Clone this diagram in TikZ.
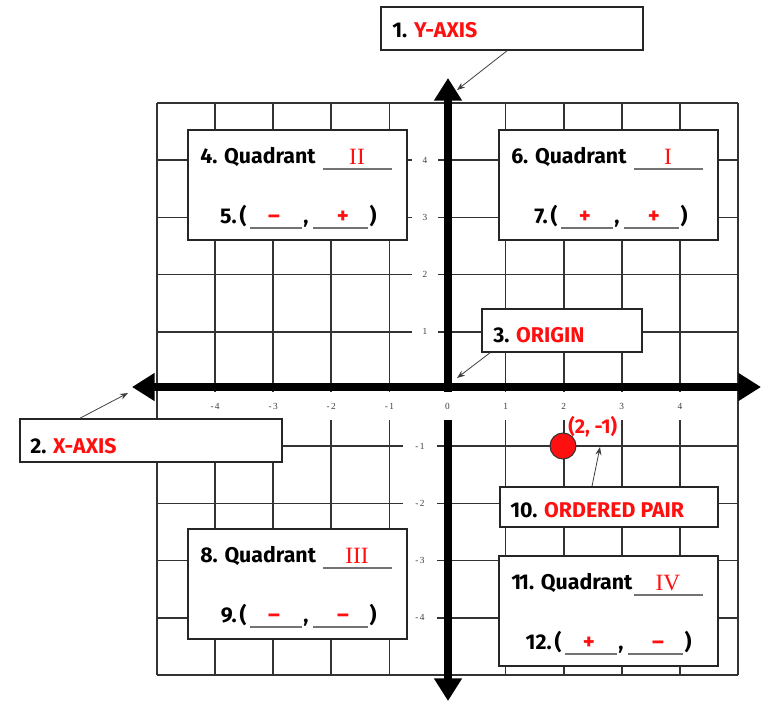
\documentclass[tikz,border=0pt]{standalone}
\usepackage{fontspec}
\setmainfont{Fira Sans}
\newfontfamily\tickfont{Liberation Serif}
\newfontfamily\numfont{Liberation Serif}
\usetikzlibrary{arrows.meta,fit}
\definecolor{gridc}{HTML}{333333}
\definecolor{ansred}{HTML}{FF1010}
\tikzset{
  gridline/.style={draw=gridc, line width=1.3pt},
  axisline/.style={line width=6pt, {Triangle[width=20pt,length=17pt]}-{Triangle[width=20pt,length=17pt]}},
  ticklab/.style={fill=white, inner sep=0pt, font=\tickfont\fontsize{7}{8}\selectfont, text=black!75},
  xtick/.style={ticklab, minimum width=14pt, minimum height=21pt},
  ytick/.style={ticklab, minimum width=19pt, minimum height=9pt},
  box/.style={draw=black!85, line width=1.2pt, fill=white, inner sep=0pt},
  lab/.style={inner sep=0pt, font=\bfseries\fontsize{16}{18}\selectfont},
  numer/.style={inner sep=0pt, text=ansred, font=\numfont\fontsize{17.5}{19}\selectfont},
  sign/.style={inner sep=0pt, text=ansred, font=\bfseries\fontsize{17}{19}\selectfont},
  blank/.style={draw=black!55, line width=1pt},
  callout/.style={draw=black!75, line width=0.6pt, -{Stealth[length=6pt,width=4.5pt]}},
  dot/.style={circle, draw=black!80, line width=0.8pt, fill=ansred, minimum size=19.5pt, inner sep=0pt}
}
\newcommand\qbox[9]{%
  \begin{scope}[shift={(#2,#3)}]
    \node[box, fit={(0,0) (219,110)}] (#1) {};
    \node[lab, anchor=base west] (#1-a) at (12,33) {#4 Quadrant};
    \draw[blank] (135,39) -- (204,39);
    \node[numer, anchor=base] (#1-n) at (169,34) {#5};
    \node[lab, anchor=base east] (#1-b) at (49+#9,93) {#6};
    \node[lab, anchor=base] (#1-o) at (55+#9,93) {(};
    \draw[blank] (62+#9,98) -- (114+#9,98);
    \node[sign, anchor=base] (#1-s) at (86+#9,93) {#7};
    \node[lab, anchor=base] (#1-c) at (118+#9,93) {,};
    \draw[blank] (125+#9,98) -- (180+#9,98);
    \node[sign, anchor=base] (#1-t) at (155+#9,93) {#8};
    \node[lab, anchor=base] (#1-e) at (185+#9,93) {)};
  \end{scope}}
\begin{document}
\begin{tikzpicture}[x=0.75pt, y=-0.75pt]
\useasboundingbox (0,0) rectangle (761,701);
% grid
\foreach \i in {0,...,10} {
  \draw[gridline] ({157+58.1*\i},103) -- ({157+58.1*\i},675);
  \draw[gridline] (157,{103+57.2*\i}) -- (738,{103+57.2*\i});
}
% axes
\draw[axisline] (448,78) -- (448,701);
\draw[axisline] (132,387) -- (761,387);
% tick labels
\foreach \v [count=\k] in {-4,-3,-2,-1,0,1,2,3,4} {
  \node[xtick] (xt\k) at ({157+58.1*\k},406) {\ifnum\v<0 -\hspace{1pt}\the\numexpr-\v\relax\else\v\fi};
}
\foreach \v/\yy in {4/160.2,3/217.4,2/274.6,1/331.8} {
  \node[ytick] (yt\v) at (425,\yy) {\v};
}
\foreach \v/\yy in {1/446.2,2/503.4,3/560.6,4/617.8} {
  \node[ytick, minimum width=25pt] (ytm\v) at (420,\yy) {-\hspace{1pt}\v};
}
% label boxes
\node[box, fit={(381,7) (643,50)}] (yb) {};
\node[lab, anchor=base west] (ybt) at (392,37) {1. \textcolor{ansred}{Y-AXIS}};
\node[box, fit={(20,419) (282,462)}] (xb) {};
\node[lab, anchor=base west] (xbt) at (30,453) {2. \textcolor{ansred}{X-AXIS}};
\node[box, fit={(482,309) (642,352)}] (ob) {};
\node[lab, anchor=base west] (obt) at (493,342) {3. \textcolor{ansred}{ORIGIN}};
\node[box, fit={(500,487) (718,527)}] (pb) {};
\node[lab, anchor=base west] (pbt) at (510,517) {10. \textcolor{ansred}{ORDERED PAIR}};
% quadrant boxes
\qbox{q2}{188}{130}{4.}{II}{5.}{–}{+}{0}
\qbox{q1}{499}{130}{6.}{I}{7.}{+}{+}{0}
\qbox{q3}{188}{529}{8.}{III}{9.}{–}{–}{0}
\qbox{q4}{499}{556}{1\kern-1.5pt1.}{IV}{12.}{+}{–}{4}
% point
\node[dot] (pt) at (563,446) {};
\node[lab, anchor=base west, text=ansred, font=\bfseries\fontsize{15}{17}\selectfont] (ptl) at (568,433) {(2, -1)};
% callouts
\coordinate (ytgt) at (457,90);
\coordinate (xtgt) at (128,393);
\coordinate (otgt) at (457,378);
\coordinate (ptgt) at (600,447);
\draw[callout] ([xshift=-3.75pt]yb.south) -- (ytgt);
\draw[callout] ([xshift=-53.25pt]xb.north) -- (xtgt);
\draw[callout] ([xshift=-54pt]ob.south) -- (otgt);
\draw[callout] ([xshift=-12.75pt]pb.north) -- (ptgt);
\end{tikzpicture}
\end{document}
